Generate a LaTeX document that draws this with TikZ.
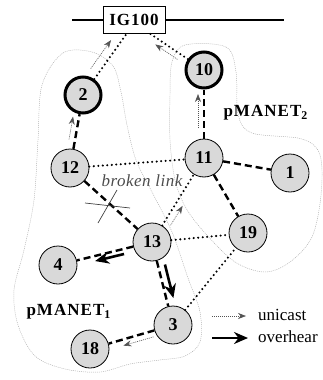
\documentclass[tikz,border=0pt]{standalone}
\usepackage{fontspec}
\setmainfont{Liberation Serif}
\usetikzlibrary{calc,arrows.meta}
\begin{document}
\begin{tikzpicture}[x=1pt,y=-1pt,
  mnode/.style={circle, draw, line width=0.8pt, fill=gray!30, minimum size=38pt, inner sep=0pt,
    font=\fontsize{18}{18}\selectfont\bfseries},
  gwnode/.style={mnode, line width=3pt, minimum size=36pt},
  link/.style={line width=2.4pt, dash pattern=on 7pt off 4pt},
  dotlink/.style={line width=2.3pt, dash pattern=on 0pt off 4.5pt, line cap=round},
  uni/.style={draw=gray!65!black, line width=0.6pt, dash pattern=on 1pt off 1pt,
    -{Stealth[length=8pt,width=6pt]}},
  over/.style={line width=2.6pt, -{Stealth[length=14pt,width=12pt]}},
  region/.style={draw=gray!65, line width=0.45pt, dash pattern=on 1pt off 1pt},
  lbl/.style={font=\fontsize{17}{17}\selectfont\bfseries\addfontfeature{LetterSpace=6}},
  legtext/.style={anchor=west, inner sep=0pt, font=\fontsize{17}{17}\selectfont}
]
\useasboundingbox (0,0) rectangle (323,380);

% regions
\draw[region] plot[smooth cycle, tension=0.55] coordinates {
  (63,53) (92,52) (113,66) (121,92) (127,125) (136,160) (152,192) (172,232)
  (188,278) (200,312) (200,342) (185,356) (160,360) (130,364) (100,372) (65,369)
  (35,356) (18,325) (14,290) (24,250) (34,200) (38,140) (42,85)};
\draw[region] plot[smooth cycle, tension=0.55] coordinates {
  (185,45) (226,47) (236,72) (238,114) (252,133) (302,139) (320,155) (321,195)
  (312,237) (290,262) (265,272) (235,262) (205,233) (186,208) (175,180) (170,140)
  (170,95) (172,62)};

% gateway bar and box
\node[draw, fill=white, line width=0.8pt, minimum width=62pt, minimum height=27pt, inner sep=0pt,
  font=\fontsize{17}{17}\selectfont\bfseries\addfontfeature{LetterSpace=6}] (ig) at (134,20) {IG100};
\coordinate (barL) at (72,20);
\coordinate (barR) at (284,20);
\draw[line width=2.6pt] (barL) -- (ig.west);
\draw[line width=2.6pt] (ig.east) -- (barR);
\coordinate (igA) at ($(ig.south west)!0.38!(ig.south east)$);
\coordinate (igB) at ($(ig.south west)!0.76!(ig.south east)$);

% nodes
\node[gwnode] (n2) at (83,95) {2};
\node[gwnode] (n10) at (204,70) {10};
\node[mnode] (n12) at (70,168) {12};
\node[mnode] (n11) at (204,158) {11};
\node[mnode] (n1) at (290,173) {1};
\node[mnode] (n19) at (248,233) {19};
\node[mnode] (n13) at (152,242) {13};
\node[mnode] (n4) at (58,265) {4};
\node[mnode] (n3) at (173,325) {3};
\node[mnode] (n18) at (90,349) {18};

% links
\draw[dotlink] (n2) -- (igA);
\draw[dotlink] (n10) -- (igB);
\draw[link] (n12) -- (n2);
\draw[link] (n11) -- (n10);
\draw[dotlink] (n12) -- (n11);
\draw[link] (n11) -- (n1);
\draw[link] (n11) -- (n19);
\draw[link] (n12) -- (n13);
\draw[dotlink] (n13) -- (n11);
\draw[dotlink] (n13) -- (n19);
\draw[link] (n13) -- (n4);
\draw[link] (n13) -- (n3);
\draw[dotlink] (n3) -- (n19);
\draw[link] (n3) -- (n18);

% unicast arrows
\draw[uni] ($(n12)!28pt!(n2)!6pt!90:(n2)$) -- ($(n2)!23pt!(n12)!6pt!-90:(n12)$);
\draw[uni] ($(n11)!30pt!(n10)!6pt!90:(n10)$) -- ($(n10)!24pt!(n11)!6pt!-90:(n11)$);
\draw[uni] ($(n2)!26pt!(igA)!9pt!90:(igA)$) -- ($(igA)!14pt!(n2)!9pt!-90:(n2)$);
\draw[uni] ($(n10)!28pt!(igB)!6pt!90:(igB)$) -- ($(igB)!10pt!(n10)!6pt!-90:(n10)$);
\draw[uni] ($(n13)!24pt!(n11)!7pt!-90:(n11)$) -- ($(n11)!52pt!(n13)!7pt!90:(n13)$);
\draw[uni] ($(n3)!22pt!(n18)!6pt!90:(n18)$) -- ($(n18)!33pt!(n3)!6pt!-90:(n3)$);

% overhear arrows
\draw[over] ($(n13)!30pt!(n4)!5pt!90:(n4)$) -- ($(n4)!37pt!(n13)!5pt!-90:(n13)$);
\draw[over] ($(n13)!25pt!(n3)!7pt!90:(n3)$) -- ($(n3)!26pt!(n13)!7pt!-90:(n13)$);

% broken link mark
\node[font=\fontsize{17}{17}\selectfont\itshape\addfontfeature{LetterSpace=3}, text=gray!60!black] (brk) at (142,181) {broken link};
\coordinate (xa1) at (85,203);
\coordinate (xa2) at (130,208);
\coordinate (xb1) at (98,223);
\coordinate (xb2) at (117,190);
\draw[gray!50!black, line width=0.7pt] (xa1) -- (xa2);
\draw[gray!50!black, line width=0.7pt] (xb1) -- (xb2);

% region labels
\node[lbl, anchor=west] (p2) at (220,113) {pMANET\textsubscript{2}};
\node[lbl, anchor=west] (p1) at (23,312) {pMANET\textsubscript{1}};

% legend
\coordinate (lu1) at (212,316);
\coordinate (lu2) at (246,316);
\coordinate (lo1) at (212,338);
\coordinate (lo2) at (248,338);
\draw[uni] (lu1) -- (lu2);
\draw[over] (lo1) -- (lo2);
\node[legtext] (tu) at (258,315) {unicast};
\node[legtext] (to) at (258,337) {overhear};
\end{tikzpicture}
\end{document}
